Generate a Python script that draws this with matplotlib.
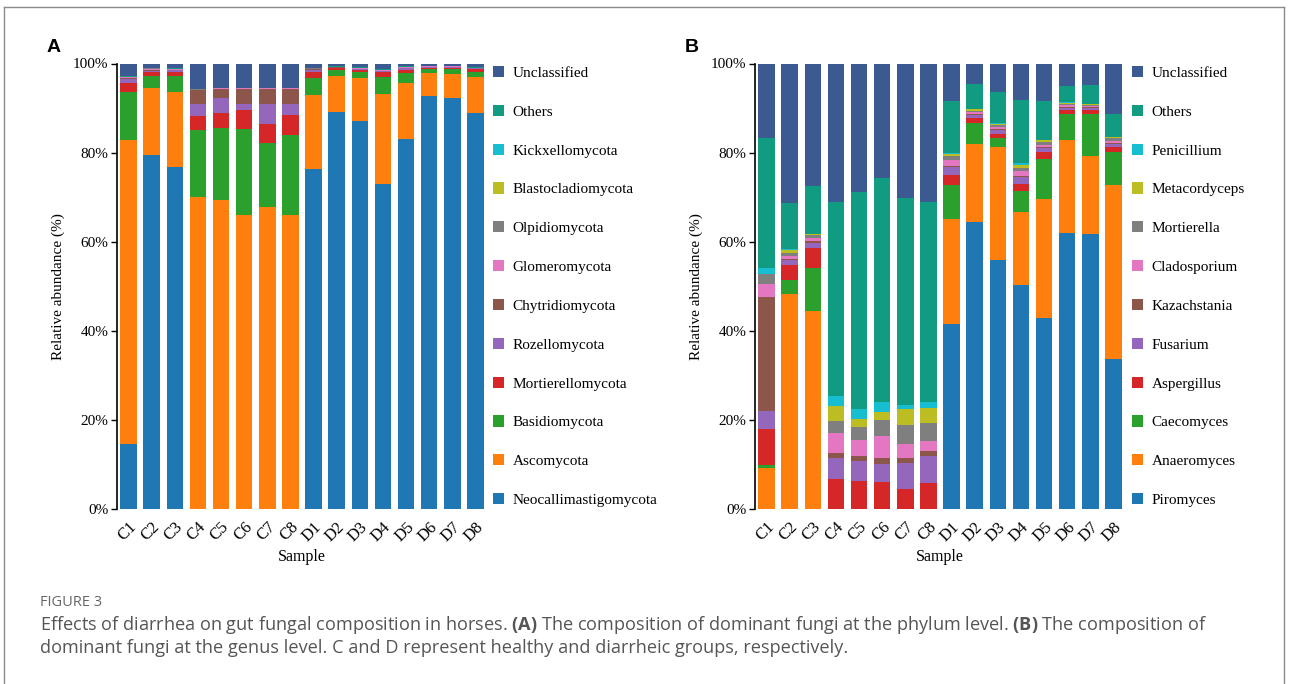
import numpy as np
import matplotlib
matplotlib.use('Agg')
import matplotlib.pyplot as plt
from matplotlib.patches import Patch
from matplotlib.lines import Line2D

# --- DATA ---
samples = ['C1', 'C2', 'C3', 'C4', 'C5', 'C6', 'C7', 'C8',
           'D1', 'D2', 'D3', 'D4', 'D5', 'D6', 'D7', 'D8']

# Panel A: phylum level (%), stacked bottom -> top
phylum_names = ['Neocallimastigomycota', 'Ascomycota', 'Basidiomycota', 'Mortierellomycota',
                'Rozellomycota', 'Chytridiomycota', 'Glomeromycota', 'Olpidiomycota',
                'Blastocladiomycota', 'Kickxellomycota', 'Others', 'Unclassified']
neocallimastigomycota = [14.5, 79.5, 76.8, 0.0, 0.0, 0.0, 0.0, 0.0, 76.4, 89.2, 87.0, 73.0, 83.1, 92.6, 92.3, 88.9]
ascomycota = [68.4, 15.0, 16.8, 70.0, 69.4, 65.9, 67.9, 66.1, 16.6, 7.9, 9.8, 20.2, 12.5, 5.3, 5.4, 8.1]
basidiomycota = [10.6, 2.8, 3.6, 15.0, 16.1, 19.3, 14.3, 17.8, 3.7, 1.5, 1.3, 3.7, 2.2, 0.9, 1.0, 1.2]
mortierellomycota = [2.1, 0.8, 0.9, 3.2, 3.4, 4.3, 4.3, 4.6, 1.5, 0.3, 0.4, 1.2, 0.8, 0.3, 0.3, 0.5]
rozellomycota = [0.9, 0.3, 0.4, 2.6, 3.4, 1.5, 4.5, 2.3, 0.3, 0.2, 0.2, 0.2, 0.3, 0.1, 0.2, 0.2]
chytridiomycota = [0.3, 0.2, 0.1, 3.2, 2.0, 3.3, 3.3, 3.5, 0.2, 0.1, 0.1, 0.1, 0.1, 0.1, 0.1, 0.1]
glomeromycota = [0.1, 0.2, 0.2, 0.1, 0.1, 0.1, 0.1, 0.1, 0.1, 0.1, 0.1, 0.1, 0.2, 0.1, 0.1, 0.1]
olpidiomycota = [0.1, 0.1, 0.0, 0.1, 0.0, 0.0, 0.0, 0.0, 0.1, 0.0, 0.1, 0.0, 0.1, 0.0, 0.0, 0.0]
blastocladiomycota = [0.0, 0.0, 0.0, 0.0, 0.0, 0.0, 0.0, 0.0, 0.0, 0.0, 0.0, 0.0, 0.0, 0.0, 0.0, 0.0]
kickxellomycota = [0.0, 0.0, 0.0, 0.0, 0.0, 0.0, 0.0, 0.0, 0.0, 0.0, 0.0, 0.0, 0.0, 0.0, 0.0, 0.0]
others_a = [0.2, 0.1, 0.1, 0.1, 0.2, 0.1, 0.1, 0.1, 0.2, 0.1, 0.2, 0.2, 0.2, 0.1, 0.1, 0.2]
unclassified_a = [2.8, 1.0, 1.1, 5.7, 5.4, 5.5, 5.5, 5.5, 0.9, 0.6, 0.8, 1.3, 0.5, 0.5, 0.5, 0.7]

# Panel B: genus level (%), stacked bottom -> top
genus_names = ['Piromyces', 'Anaeromyces', 'Caecomyces', 'Aspergillus', 'Fusarium',
               'Kazachstania', 'Cladosporium', 'Mortierella', 'Metacordyceps', 'Penicillium',
               'Others', 'Unclassified']
piromyces = [0.0, 0.0, 0.0, 0.0, 0.0, 0.0, 0.0, 0.0, 41.5, 64.4, 56.0, 50.2, 42.9, 61.9, 61.7, 33.6]
anaeromyces = [9.3, 48.3, 44.5, 0.0, 0.0, 0.0, 0.0, 0.0, 23.7, 17.5, 25.2, 16.5, 26.6, 20.9, 17.6, 39.2]
caecomyces = [0.6, 3.1, 9.5, 0.0, 0.0, 0.0, 0.0, 0.0, 7.6, 4.8, 2.1, 4.7, 9.1, 5.8, 9.4, 7.3]
aspergillus = [8.1, 3.3, 4.5, 6.7, 6.3, 6.0, 4.6, 5.8, 2.1, 1.0, 0.9, 1.5, 1.5, 0.9, 0.9, 1.2]
fusarium = [3.9, 1.1, 1.3, 4.8, 4.5, 4.0, 5.8, 6.1, 1.9, 0.7, 0.8, 1.7, 0.9, 0.6, 0.5, 0.7]
kazachstania = [25.6, 0.3, 0.4, 1.1, 1.1, 1.5, 1.0, 1.2, 0.3, 0.2, 0.2, 0.2, 0.2, 0.2, 0.1, 0.2]
cladosporium = [2.9, 0.6, 0.7, 4.5, 3.6, 4.8, 3.2, 2.2, 1.2, 0.5, 0.5, 1.1, 0.6, 0.4, 0.3, 0.5]
mortierella = [2.3, 0.8, 0.5, 2.7, 2.8, 3.7, 4.2, 4.0, 0.9, 0.3, 0.6, 0.7, 0.5, 0.2, 0.2, 0.5]
metacordyceps = [0.1, 0.7, 0.3, 3.4, 1.8, 1.8, 3.6, 3.4, 0.5, 0.3, 0.2, 0.7, 0.5, 0.3, 0.2, 0.3]
penicillium = [1.3, 0.2, 0.1, 2.2, 2.4, 2.2, 0.9, 1.3, 0.3, 0.1, 0.1, 0.4, 0.1, 0.1, 0.1, 0.1]
others_b = [29.2, 10.2, 10.6, 43.4, 48.7, 50.3, 46.6, 44.9, 11.5, 5.6, 6.9, 14.0, 8.7, 3.6, 4.1, 5.1]
unclassified_b = [16.7, 31.4, 27.6, 31.2, 28.8, 25.7, 30.1, 31.1, 8.5, 4.6, 6.5, 8.3, 8.4, 5.1, 4.9, 11.3]

yticks = [0, 20, 40, 60, 80, 100]

# --- STYLE ---
COLORS = ['#1f77b4', '#ff7f0e', '#2ca02c', '#d62728', '#9467bd', '#8c564b',
          '#e377c2', '#7f7f7f', '#bcbd22', '#17becf', '#119c82', '#3b5a92']
SERIF = 'Liberation Serif'
W, H = 1290, 684

plt.rcParams['mathtext.fontset'] = 'custom'
plt.rcParams['mathtext.rm'] = 'Open Sans'
plt.rcParams['mathtext.bf'] = 'Open Sans:bold'


def draw_panel(fig, rect, series, names, legend_x, label_x, label):
    ax = fig.add_axes(rect)
    x = np.arange(len(samples))
    bottom = np.zeros(len(samples))
    for vals, c in zip(series, COLORS):
        ax.bar(x, vals, bottom=bottom, width=0.71, color=c, linewidth=0)
        bottom += np.array(vals)

    ax.set_xlim(-0.5, len(samples) - 0.5)
    ax.set_ylim(0, 100)
    ax.set_yticks(yticks)
    ax.set_yticklabels([f'{t}%' for t in yticks], fontsize=11, family=SERIF)
    ax.set_xticks(x)
    ax.set_xticklabels(samples, rotation=45, ha='right', va='top', rotation_mode='anchor',
                       fontsize=12, family=SERIF)
    ax.tick_params(axis='x', length=0, pad=7)
    ax.tick_params(axis='y', length=4, width=1, pad=2)
    for s in ['top', 'right', 'bottom']:
        ax.spines[s].set_visible(False)
    ax.spines['left'].set_linewidth(1.2)
    ax.set_ylabel('Relative abundance (%)', fontsize=11, family=SERIF, labelpad=6)
    ax.set_xlabel('Sample', fontsize=11.5, family=SERIF, labelpad=3)

    handles = [Patch(facecolor=c, linewidth=0) for c in COLORS][::-1]
    ax.legend(handles, names[::-1], loc='upper left', bbox_to_anchor=(legend_x / W, 1 - 66 / H),
              bbox_transform=fig.transFigure, frameon=False, borderpad=0, borderaxespad=0,
              handlelength=0.75, handleheight=0.75, handletextpad=0.55, labelspacing=1.63,
              prop={'family': SERIF, 'size': 11})

    fig.text(label_x / W, 1 - 48 / H, label, fontsize=14, fontweight='bold',
             family='Liberation Sans', ha='left', va='center')
    return ax


fig = plt.figure(figsize=(W / 100, H / 100), dpi=100)

ax_h = (509 - 63.5) / H
ax_y0 = 1 - 509 / H
draw_panel(fig, [117 / W, ax_y0, 370 / W, ax_h],
           [neocallimastigomycota, ascomycota, basidiomycota, mortierellomycota, rozellomycota,
            chytridiomycota, glomeromycota, olpidiomycota, blastocladiomycota, kickxellomycota,
            others_a, unclassified_a],
           phylum_names, 493, 47, 'A')
draw_panel(fig, [755 / W, ax_y0, 370 / W, ax_h],
           [piromyces, anaeromyces, caecomyces, aspergillus, fusarium, kazachstania,
            cladosporium, mortierella, metacordyceps, penicillium, others_b, unclassified_b],
           genus_names, 1132, 685, 'B')

# --- frame (open at the bottom) ---
for xs, ys in [([4, 4], [7, H + 5]), ([1284, 1284], [7, H + 5]), ([4, 1284], [7, 7])]:
    fig.add_artist(Line2D([v / W for v in xs], [1 - v / H for v in ys],
                          transform=fig.transFigure, color='#8a8a8a', linewidth=1.0))

# --- caption ---
fig.text(40 / W, 1 - 602 / H, 'FIGURE 3', fontsize=10.5, color='#666666', family='Open Sans',
         ha='left', va='center')
fig.text(40 / W, 1 - 625 / H,
         r'Effects of diarrhea on gut fungal composition in horses. $\mathbf{(A)}$ The composition of '
         r'dominant fungi at the phylum level. $\mathbf{(B)}$ The composition of',
         fontsize=13.1, color='#555555', family='Open Sans', ha='left', va='center')
fig.text(40 / W, 1 - 648 / H,
         'dominant fungi at the genus level. C and D represent healthy and diarrheic groups, respectively.',
         fontsize=13.1, color='#555555', family='Open Sans', ha='left', va='center')

fig.savefig('out.png', dpi=100)
